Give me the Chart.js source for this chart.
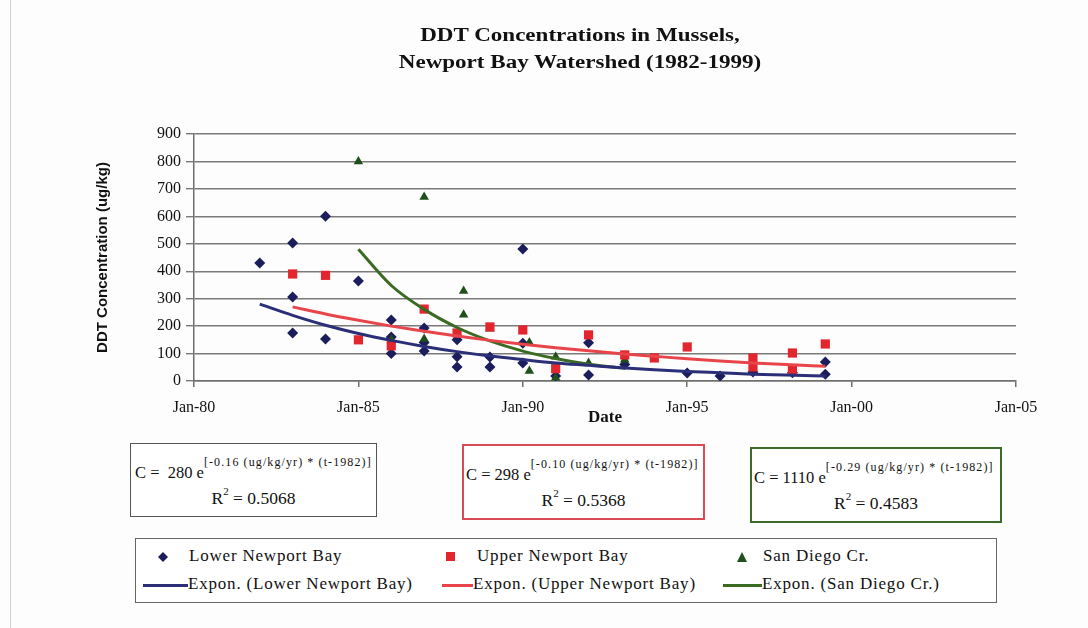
<!DOCTYPE html>
<html>
<head>
<meta charset="utf-8">
<script src="https://cdn.jsdelivr.net/npm/chart.js@4.4.1/dist/chart.umd.min.js"></script>
<style>
  html, body { margin: 0; padding: 0; background: #fdfdfd; }
  #wrap { position: relative; width: 1088px; height: 628px; overflow: hidden; font-family: "Liberation Serif", "Times New Roman", serif; color: #111; }
  #frame { position: absolute; left: 10px; top: -2px; width: 1066px; height: 640px; border-left: 1px solid #cfcfcf; }
  canvas { position: absolute; left: 0; top: 0; }
  #title { position: absolute; left: 330px; width: 500px; top: 22px; text-align: center; font-weight: bold; font-size: 18px; line-height: 27px; transform: scaleX(1.28); }
  .eq { position: absolute; height: 72px; background: #fff; }
  .eq .c { position: absolute; left: 4px; top: 16px; font-size: 16.5px; white-space: nowrap; }
  .eq sup { font-size: 12px; position: relative; top: -5px; letter-spacing: 1.1px; }
  .eq .r { position: absolute; left: 0; right: 0; top: 43px; text-align: center; font-size: 17.5px; }
  .eq .r sup { font-size: 11px; top: -2px; letter-spacing: 0; }
  #legend { position: absolute; left: 135px; top: 538px; width: 860px; height: 63px; border: 1px solid #666; background: #fff; font-size: 17px; letter-spacing: 0.8px; }
  .li { position: absolute; white-space: nowrap; }
  .li svg { position: absolute; }
</style>
</head>
<body>
<div id="wrap">
  <div id="frame"></div>
  <canvas id="chart" width="1088" height="628"></canvas>
  <div id="title">DDT Concentrations in Mussels,<br>Newport Bay Watershed (1982-1999)</div>

  <div class="eq" style="left:130px; top:443px; width:245px; border:1.5px solid #555;">
    <div class="c">C =&nbsp; 280 e<sup>[-0.16 (ug/kg/yr) * (t-1982)]</sup></div>
    <div class="r">R<sup>2</sup> = 0.5068</div>
  </div>
  <div class="eq" style="left:462px; top:444px; width:239px; border:2px solid #d94a52;">
    <div class="c" style="left:2px">C = 298 e<sup>[-0.10 (ug/kg/yr) * (t-1982)]</sup></div>
    <div class="r">R<sup>2</sup> = 0.5368</div>
  </div>
  <div class="eq" style="left:750px; top:447px; width:248px; border:2px solid #3d6b2a;">
    <div class="c" style="left:2px">C = 1110 e<sup>[-0.29 (ug/kg/yr) * (t-1982)]</sup></div>
    <div class="r">R<sup>2</sup> = 0.4583</div>
  </div>

  <div id="legend">
    <div class="li" style="left:22px; top:7px;"><svg width="10" height="10" style="left:0; top:6px"><polygon points="5,0 10,5 5,10 0,5" fill="#1b1d5c"/></svg><span style="margin-left:31px">Lower Newport Bay</span></div>
    <div class="li" style="left:310px; top:7px;"><svg width="9" height="9" style="left:0; top:6px"><rect width="9" height="9" fill="#e3262e"/></svg><span style="margin-left:31px">Upper Newport Bay</span></div>
    <div class="li" style="left:601px; top:7px;"><svg width="10" height="10" style="left:0; top:6px"><polygon points="5,0 10,10 0,10" fill="#1f4f1a"/></svg><span style="margin-left:26px">San Diego Cr.</span></div>
    <div class="li" style="left:7px; top:35px;"><svg width="45" height="4" style="left:0; top:10px"><rect width="45" height="3" fill="#2b2f78"/></svg><span style="margin-left:45px">Expon. (Lower Newport Bay)</span></div>
    <div class="li" style="left:306px; top:35px;"><svg width="31" height="4" style="left:0; top:10px"><rect width="31" height="3" fill="#e8454a"/></svg><span style="margin-left:31px">Expon. (Upper Newport Bay)</span></div>
    <div class="li" style="left:587px; top:35px;"><svg width="39" height="4" style="left:0; top:10px"><rect width="39" height="3" fill="#3b6b23"/></svg><span style="margin-left:39px">Expon. (San Diego Cr.)</span></div>
  </div>
</div>

<script>
// measured concentrations (ug/kg) by sampling date (decimal year)
const lowerYears = [1982, 1983, 1983, 1983, 1984, 1984, 1985, 1986, 1986, 1986, 1987, 1987, 1987, 1988, 1988, 1988, 1989, 1989, 1990, 1990, 1990, 1991, 1992, 1992, 1993.1, 1995, 1996, 1997, 1998.2, 1999.2, 1999.2];
const lowerValues = [430, 503, 306, 175, 600, 153, 364, 222, 160, 100, 193, 140, 109, 150, 88, 51, 87, 51, 481, 138, 66, 18, 139, 22, 60, 29, 18, 33, 30, 69, 25];

const upperYears = [1983, 1984, 1985, 1986, 1987, 1988, 1989, 1990, 1991, 1992, 1993.1, 1994, 1995, 1997, 1997, 1998.2, 1998.2, 1999.2];
const upperValues = [390, 385, 150, 128, 262, 175, 197, 186, 45, 168, 95, 84, 124, 84, 51, 102, 40, 135];

const sanDiegoYears = [1985, 1986, 1987, 1987, 1988.2, 1988.2, 1989, 1990.2, 1990.2, 1991, 1991, 1992, 1993.1];
const sanDiegoValues = [800, 150, 670, 153, 328, 241, 190, 140, 36, 88, 12, 66, 77];

// trend lines
const lowerFitYears = [1982, 1983, 1984, 1985, 1986, 1987, 1988, 1989, 1990, 1991, 1992, 1993, 1994, 1995, 1996, 1997, 1998, 1999.2];
const lowerFitValues = [280, 239, 203, 173, 148, 126, 107, 91, 78, 66, 57, 48, 41, 35, 30, 25, 22, 18];

const upperFitYears = [1983, 1984, 1985, 1986, 1987, 1988, 1989, 1990, 1991, 1992, 1993, 1994, 1995, 1996, 1997, 1998, 1999.2];
const upperFitValues = [270, 244, 221, 200, 181, 164, 148, 134, 121, 110, 99, 90, 81, 73, 66, 60, 54];

const sanDiegoFitYears = [1985, 1986, 1987, 1988, 1989, 1990, 1991, 1992, 1993.1];
const sanDiegoFitValues = [480, 348, 261, 195, 146, 109, 82, 61, 46];

const yTicks = [0, 100, 200, 300, 400, 500, 600, 700, 800, 900];

function pts(xs, ys) {
  return xs.map((x, i) => ({ x: x, y: ys[i] }));
}

function yearLabel(v) {
  return 'Jan-' + String(v % 100).padStart(2, '0');
}

const serif = '"Liberation Serif", "Times New Roman", serif';

new Chart(document.getElementById('chart'), {
  type: 'scatter',
  data: {
    datasets: [
      { label: 'Expon. (Lower Newport Bay)', type: 'line', data: pts(lowerFitYears, lowerFitValues),
        borderColor: '#2b2f78', borderWidth: 3, pointRadius: 0, cubicInterpolationMode: 'monotone', fill: false },
      { label: 'Expon. (Upper Newport Bay)', type: 'line', data: pts(upperFitYears, upperFitValues),
        borderColor: '#e8454a', borderWidth: 3, pointRadius: 0, cubicInterpolationMode: 'monotone', fill: false },
      { label: 'Expon. (San Diego Cr.)', type: 'line', data: pts(sanDiegoFitYears, sanDiegoFitValues),
        borderColor: '#3b6b23', borderWidth: 3, pointRadius: 0, cubicInterpolationMode: 'monotone', fill: false },
      { label: 'Upper Newport Bay', data: pts(upperYears, upperValues),
        pointStyle: 'rect', pointRadius: 6.5, backgroundColor: '#e3262e', borderColor: '#e3262e', borderWidth: 0 },
      { label: 'San Diego Cr.', data: pts(sanDiegoYears, sanDiegoValues),
        pointStyle: 'triangle', pointRadius: 5.5, backgroundColor: '#1f4f1a', borderColor: '#1f4f1a', borderWidth: 0 },
      { label: 'Lower Newport Bay', data: pts(lowerYears, lowerValues),
        pointStyle: 'rectRot', pointRadius: 5.5, backgroundColor: '#1b1d5c', borderColor: '#1b1d5c', borderWidth: 0 }
    ]
  },
  options: {
    responsive: false,
    animation: false,
    layout: { padding: { left: 94, right: 72, top: 134, bottom: 200 } },
    plugins: {
      legend: { display: false },
      tooltip: { enabled: false }
    },
    scales: {
      x: {
        type: 'linear', min: 1980, max: 2005,
        afterFit: s => { s.height = 47; },
        border: { display: true, color: '#6f6f6f', width: 1.5 },
        grid: { drawOnChartArea: false, drawTicks: true, tickLength: 6, color: '#6f6f6f', lineWidth: 1.5 },
        ticks: { stepSize: 5, padding: 11, color: '#111', font: { family: serif, size: 16 }, maxRotation: 0,
                 callback: v => yearLabel(v) },
        title: { display: true, text: 'Date', color: '#111', padding: { top: 0, bottom: 0 },
                 font: { family: serif, size: 17, weight: 'bold' } }
      },
      y: {
        min: 0, max: 900,
        afterFit: s => { s.width = 100; },
        afterBuildTicks: s => { s.ticks = yTicks.map(v => ({ value: v })); },
        border: { display: true, color: '#6f6f6f', width: 1.5 },
        grid: { color: '#7a7a7a', lineWidth: 1.4, tickLength: 8 },
        ticks: { padding: 5, color: '#111', font: { family: serif, size: 16 } },
        title: { display: true, text: 'DDT Concentration (ug/kg)', color: '#111', padding: { top: 0, bottom: 0 },
                 font: { family: '"Liberation Sans", Arial, sans-serif', size: 15, weight: 'bold' } }
      }
    }
  }
});
</script>
</body>
</html>
